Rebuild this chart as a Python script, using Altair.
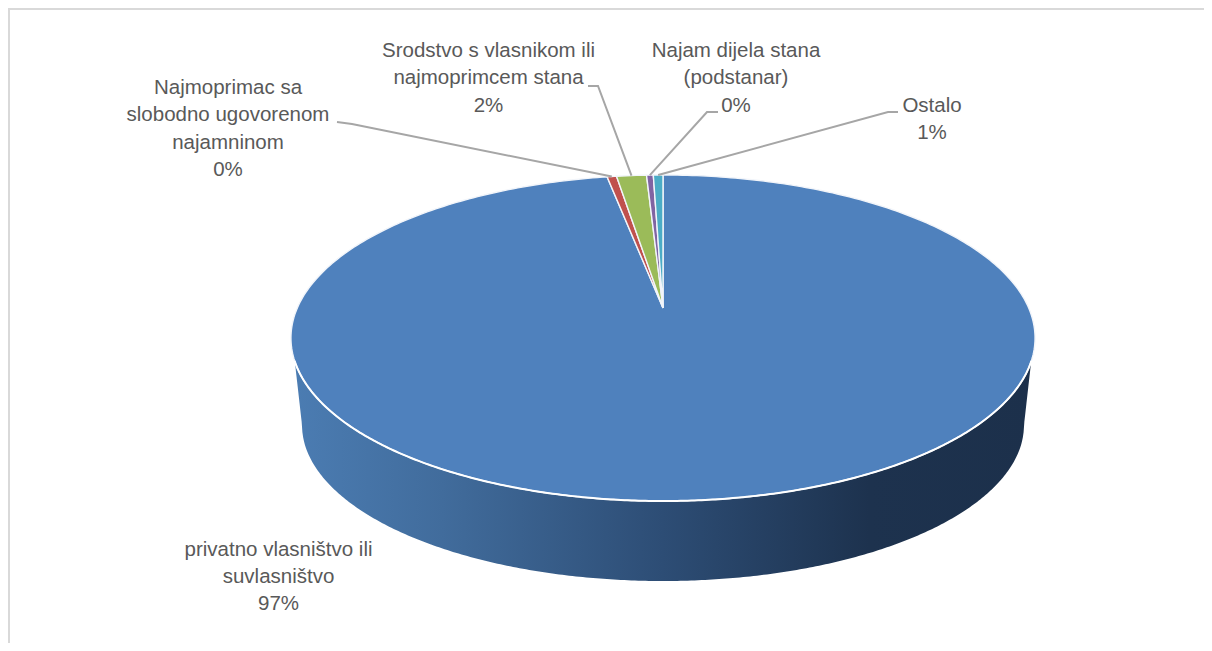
import math
import altair as alt
import pandas as pd

# --- chart values ---
categories = ["privatno vlasništvo ili suvlasništvo", "Najmoprimac sa slobodno ugovorenom najamninom",
              "Srodstvo s vlasnikom ili najmoprimcem stana", "Najam dijela stana (podstanar)", "Ostalo"]
shares = [97.11, 0.49, 1.55, 0.35, 0.50]
colors = ["#4f81bd", "#c0504d", "#9bbb59", "#8064a2", "#4bacc6"]
label_texts = ["privatno vlasništvo ili\nsuvlasništvo\n97%",
               "Najmoprimac sa\nslobodno ugovorenom\nnajamninom\n0%",
               "Srodstvo s vlasnikom ili\nnajmoprimcem stana\n2%",
               "Najam dijela stana\n(podstanar)\n0%",
               "Ostalo\n1%"]
label_x = [278.5, 228, 488.5, 736, 932]
label_y = [539.5, 78, 41, 41, 96]
leader_ends = [None, [(337, 122), (352, 124)], [(588, 86), (598, 86)], [(718, 112), (707, 112)], [(898, 112), (888, 112)]]

W, H = 1196, 635
OX, OY = 8, 8          # page margin
# perspective disc
CX, APEX_Y = 663, 308
K, B, A = 0.184, 157.5, 365.7
a_bot, b_bot, cy_bot = 361, 156, 425
Y_EDGE = 360


def project(theta, r=1.0):
    X, Y = r * math.sin(theta), r * math.cos(theta)
    d = 1 + K * Y
    return CX + A * X / d, APEX_Y - B * Y / d


rows = []
start = 0.0
anchors = {}
for i, (c, s) in enumerate(zip(categories, shares)):
    end = start + s
    n = max(4, int(s * 4))
    pts = [(CX, APEX_Y)]
    for j in range(n + 1):
        pts.append(project(2 * math.pi * (start + (end - start) * j / n) / 100))
    pts.append((CX, APEX_Y))
    for k, (x, y) in enumerate(pts):
        rows.append(dict(cat=c, o=k, x=x - OX, y=y - OY))
    anchors[i] = project(2 * math.pi * (start + end) / 200)
    start = end
slices = pd.DataFrame(rows)

# side wall: lower part of the top rim, down to the bottom rim
rim = []
N = 400
points = []
for j in range(N + 1):
    th = math.pi * (1.5 - 1.0 * j / N)
    x, y = project(th)
    if y >= Y_EDGE:
        points.append((x, y))
x_l, x_r = points[0][0], points[-1][0]
for x, y in points:
    dx = (x - CX) / a_bot
    edge = abs(dx) >= 1
    if edge:
        # straight wall from the rim edge to the widest point of the lower rim
        t = (abs(x - CX) - (CX - x_l)) / (a_bot - (CX - x_l))
        yb = Y_EDGE + t * (cy_bot - Y_EDGE)
    else:
        yb = cy_bot + b_bot * math.sqrt(1 - dx * dx)
    rim.append(dict(x=x - OX, y=y - OY, y2=yb - OY))
side = pd.DataFrame(rim)

lead = []
for i, ends in enumerate(leader_ends):
    if not ends:
        continue
    for k, (x, y) in enumerate(ends):
        lead.append(dict(id=i, o=k, x=x - OX, y=y - OY))
    ax, ay = anchors[i]
    lead.append(dict(id=i, o=len(ends), x=ax - OX, y=ay - OY))
lead = pd.DataFrame(lead)

labels = pd.DataFrame(dict(t=label_texts, x=[v - OX for v in label_x], y=[v - OY for v in label_y]))
frame = pd.DataFrame(dict(x=[W, 1, 1], y=[1, 1, H], o=[0, 1, 2]))

xs = alt.X("x:Q", scale=alt.Scale(domain=[0, W], range=[0, W], nice=False), axis=None)
yscale = alt.Scale(domain=[0, H], range=[0, H], nice=False)
ys_ = alt.Y("y:Q", scale=yscale, axis=None)

side_grad = alt.Gradient(
    gradient="linear", x1=0, y1=0, x2=1, y2=0,
    stops=[alt.GradientStop(offset=0, color="#4b7cb2"),
           alt.GradientStop(offset=0.2, color="#416c9c"),
           alt.GradientStop(offset=0.5, color="#2d4d75"),
           alt.GradientStop(offset=0.78, color="#1d324e"),
           alt.GradientStop(offset=1, color="#1c304b")])

side_layer = alt.Chart(side).mark_area(color=side_grad).encode(x=xs, y=ys_, y2="y2:Q")
rim_layer = alt.Chart(side).mark_line(stroke="white", strokeWidth=2).encode(x=xs, y=ys_, order="x:Q")

slice_layers = []
for c, col in zip(categories, colors):
    slice_layers.append(
        alt.Chart(slices[slices.cat == c]).mark_line(fill=col, stroke="#f2f5fa", strokeWidth=1.4).encode(
            x=xs, y=ys_, order="o:Q"))

lead_layer = alt.Chart(lead).mark_line(stroke="#a6a6a6", strokeWidth=2).encode(
    x=xs, y=ys_, detail="id:N", order="o:Q")
text_layer = alt.Chart(labels).mark_text(
    font="Liberation Sans", fontSize=20.5, color="#595959", align="center", baseline="top",
    lineBreak="\n", lineHeight=27.4).encode(x=xs, y=ys_, text="t:N")
frame_layer = alt.Chart(frame).mark_line(stroke="#d9d9d9", strokeWidth=2).encode(x=xs, y=ys_, order="o:Q")

chart = alt.layer(frame_layer, side_layer, *slice_layers, rim_layer, lead_layer, text_layer).properties(
    width=W, height=H, padding=0, background="white", autosize=alt.AutoSizeParams(type="none")
).configure_view(stroke=None)

chart.save("out.html", embed_options={"renderer": "svg", "actions": False})
